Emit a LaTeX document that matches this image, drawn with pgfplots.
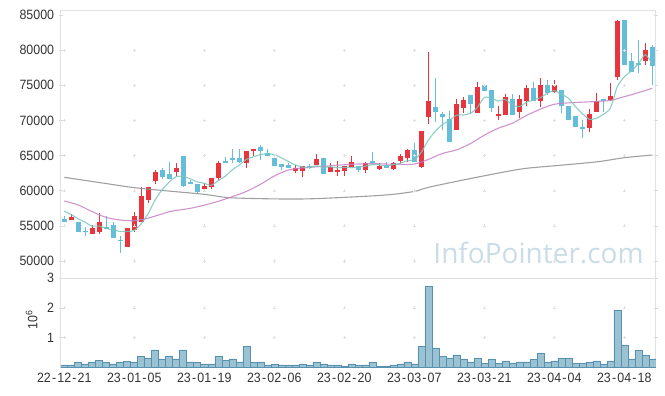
\documentclass[border=0pt]{standalone}
\usepackage{fontspec}
\setmainfont{Liberation Sans}
\newfontfamily\tickfont[FakeStretch=0.92]{Liberation Sans}
\newfontfamily\wmfont{Open Sans}
\usepackage{pgfplots}
\usepackage{pgfplotstable}
\pgfplotsset{compat=1.18}
\definecolor{candred}{RGB}{232,52,60}
\definecolor{candblue}{RGB}{100,190,218}
\definecolor{maA}{RGB}{120,198,188}
\definecolor{maB}{RGB}{200,128,196}
\definecolor{maC}{RGB}{150,150,150}
\definecolor{volfill}{RGB}{155,194,210}
\definecolor{voledge}{RGB}{88,145,175}
\definecolor{wmcolor}{RGB}{202,220,230}
\definecolor{frame}{RGB}{225,225,225}
\newcommand{\hy}{\kern1.2pt-\kern1.2pt}

\pgfplotstableread{
i o h l c
1 55900 56700 55900 56300
4 53900 55100 53900 54700
5 54200 56900 53900 55600
9 52000 54700 52000 54700
10 54400 57000 54200 56400
11 55600 60500 55600 59300
12 58700 60600 58300 60600
13 61400 63000 61000 62600
16 62600 63900 62100 63200
20 60300 61100 60100 60700
21 60500 61800 60200 61800
22 61800 64200 61500 64000
26 63900 65700 63200 65700
27 65600 66000 64900 65900
33 62800 63700 62500 63200
34 62800 63500 61900 63500
36 63700 65200 63600 64500
38 62700 63900 62700 63400
39 62600 64200 62100 62900
40 62800 63500 62100 63500
41 63400 65000 63400 64100
43 63000 64100 62500 64000
45 63100 63900 62900 63500
47 63100 64100 63000 64000
48 64300 65200 63900 64900
49 64600 66000 64100 65800
51 63400 68500 63300 68500
52 70500 79800 69500 72700
56 68700 73000 68700 72300
57 71700 73400 71000 72900
59 71100 75500 71100 74700
62 70600 72000 70000 70900
63 70800 73800 70800 73400
65 71200 73600 70300 73100
66 72800 75000 72000 74600
68 72800 76000 71900 75000
70 74000 75800 73900 75000
75 68900 71600 68300 70900
76 71200 73900 71200 72700
78 72900 75300 72700 73500
79 76200 84300 75800 84100
83 78400 81000 77900 80000
}\uptab

\pgfplotstableread{
i o h l c
0 56000 56400 55500 55500
2 55600 55600 54200 54200
3 54200 54800 53500 54100
6 54800 56400 54500 54500
7 55100 55600 53300 53300
8 52900 53500 51100 52800
14 63000 63200 61600 62000
15 62400 64100 61700 61700
17 64900 64900 60600 60700
18 61300 61500 60900 60900
19 60900 60900 59500 59800
23 64200 64800 64000 64000
24 64600 66000 63900 64400
25 64700 65900 63900 64100
28 66200 66500 64400 65600
29 65300 65900 65000 65000
30 64600 64600 63500 63500
31 63800 63800 62900 63400
32 63600 63900 63200 63300
35 63500 63800 63100 63200
37 64700 64700 62400 62400
42 63500 63500 62600 63000
44 64200 65500 63700 63900
46 63600 64100 63200 63200
50 65800 66800 64100 64100
53 71900 76000 69800 71200
54 70900 71200 68600 70500
55 70200 71300 67000 67000
58 73600 73600 71000 72300
60 75000 75000 74200 74200
61 74300 74300 71200 71700
64 73000 73800 70800 70800
67 74600 75500 72700 72700
69 75000 75800 73600 73900
71 74300 74300 71000 72000
72 72100 72100 70000 70000
73 70600 70600 69100 69100
74 69100 70000 67500 68800
77 73000 73000 71200 72800
80 84300 84300 77900 77900
81 78400 79600 76900 76900
82 78200 81400 76700 77900
84 80500 80700 75000 77700
}\dntab

\pgfplotstableread{
i v
0 57100
1 56600
2 56000
3 55500
4 54960
5 54980
6 54620
7 54440
8 54200
9 54200
10 54360
11 55320
12 56780
13 58720
14 60180
15 61240
16 62020
17 62040
18 61700
19 61260
20 61060
21 60780
22 61440
23 62060
24 62980
25 63660
26 64440
27 64820
28 65140
29 65260
30 65140
31 64680
32 64160
33 63680
34 63380
35 63320
36 63540
37 63360
38 63400
39 63280
40 63340
41 63260
42 63380
43 63500
44 63700
45 63700
46 63520
47 63720
48 63900
49 64280
50 64400
51 65460
52 67200
53 68460
54 69400
55 69980
56 70740
57 70780
58 71000
59 71840
60 73280
61 73160
62 72760
63 72980
64 72200
65 71980
66 72560
67 72920
68 73240
69 73860
70 74240
71 73720
72 73180
73 72000
74 70980
75 70160
76 70300
77 70860
78 71740
79 74800
80 76200
81 77040
82 78060
83 79360
84 78080
}\maAtab

\pgfplotstableread{
i v
0 58540
2 57970
4 57020
6 56200
8 55840
10 55740
12 56100
13 56410
14 56700
15 57020
16 57200
18 57500
20 57950
22 58500
24 59160
26 59900
28 60900
30 62100
32 62950
34 63250
36 63400
38 63550
40 63700
42 63800
44 63850
46 63800
48 63750
50 63800
52 64450
54 65300
56 65800
58 66700
60 67900
62 68900
64 69600
66 70700
68 71600
70 72300
72 72500
74 72600
76 72700
78 72850
80 73380
82 73950
84 74570
}\maBtab

\pgfplotstableread{
i v
0 61910
5 61170
10 60440
15 59950
20 59490
23 59060
26 58920
31 58830
35 58850
40 59060
46 59400
50 59900
52 60480
57 61530
63 62700
66 63190
70 63550
76 64100
80 64700
84 65080
}\maCtab

\pgfplotstableread{
i v
0 0.09
1 0.09
2 0.19
3 0.12
4 0.17
5 0.23
6 0.17
7 0.12
8 0.17
9 0.20
10 0.17
11 0.36
12 0.32
13 0.59
14 0.29
15 0.39
16 0.29
17 0.59
18 0.19
19 0.17
20 0.12
21 0.12
22 0.36
23 0.23
24 0.29
25 0.19
26 0.72
27 0.17
28 0.19
29 0.09
30 0.12
31 0.09
32 0.09
33 0.09
34 0.12
35 0.09
36 0.17
37 0.12
38 0.09
39 0.09
40 0.05
41 0.12
42 0.09
43 0.09
44 0.17
45 0.05
46 0.05
47 0.09
48 0.12
49 0.19
50 0.12
51 0.72
52 2.72
53 0.66
54 0.36
55 0.32
56 0.42
57 0.29
58 0.19
59 0.32
60 0.15
61 0.26
62 0.15
63 0.22
64 0.15
65 0.19
66 0.19
67 0.26
68 0.49
69 0.19
70 0.22
71 0.32
72 0.32
73 0.15
74 0.15
75 0.19
76 0.22
77 0.12
78 0.22
79 1.92
80 0.76
81 0.29
82 0.59
83 0.42
84 0.29
}\voltab

\begin{document}
\begin{tikzpicture}
\path[use as bounding box] (0,0) rectangle (665pt,396pt);

\begin{axis}[
  at={(60.8pt,118pt)}, anchor=south west,
  scale only axis, width=595pt, height=268pt,
  xmin=-0.5, xmax=84.5, ymin=47590, ymax=85710,
  axis line style={frame, line width=0.8pt},
  xtick=\empty,
  scaled y ticks=false,
  ytick={50000,55000,60000,65000,70000,75000,80000,85000},
  yticklabels={50000,55000,60000,65000,70000,75000,80000,85000},
  tick align=center, major tick length=4pt,
  ytick style={draw=black!15, line width=0.6pt},
  yticklabel style={font=\tickfont\fontsize{13.5}{15}\selectfont, text=black!80, inner sep=0pt, xshift=-4.5pt},
  clip=true,
]
\node[font=\wmfont\fontsize{28}{30}\selectfont, text=wmcolor, anchor=center] at (rel axis cs:0.803,0.092) {InfoPointer.com};
\pgfplotsinvokeforeach{0,10,20,30,40,50,60,70,80}{
  \addplot[only marks, mark=+, mark size=1.6pt, black!12, forget plot] coordinates {(#1,50000) (#1,55000) (#1,60000) (#1,65000) (#1,70000) (#1,75000) (#1,80000)};
}
% wicks
\addplot[draw=none, mark=none, forget plot,
  error bars/.cd, y dir=plus, y explicit, error mark=none,
  error bar style={draw=candred, line width=1pt}]
  table[x=i, y=l, y error plus expr={\thisrow{h}-\thisrow{l}}] {\uptab};
\addplot[draw=none, mark=none, forget plot,
  error bars/.cd, y dir=plus, y explicit, error mark=none,
  error bar style={draw=candblue, line width=1pt}]
  table[x=i, y=l, y error plus expr={\thisrow{h}-\thisrow{l}}] {\dntab};
% bodies
\addplot[draw=none, mark=none, forget plot,
  error bars/.cd, y dir=plus, y explicit, error mark=none,
  error bar style={draw=candred, line width=5pt}]
  table[x=i, y=o, y error plus expr={max(\thisrow{c}-\thisrow{o},150)}] {\uptab};
\addplot[draw=none, mark=none, forget plot,
  error bars/.cd, y dir=plus, y explicit, error mark=none,
  error bar style={draw=candblue, line width=5pt}]
  table[x=i, y=c, y error plus expr={max(\thisrow{o}-\thisrow{c},150)}] {\dntab};
% moving averages
\addplot[maC, line width=1.1pt, opacity=0.9, smooth, mark=none] table[x=i,y=v] {\maCtab};
\addplot[maB, line width=1.1pt, opacity=0.85, smooth, mark=none] table[x=i,y=v] {\maBtab};
\addplot[maA, line width=1.1pt, opacity=0.85, smooth, tension=0.4, mark=none] table[x=i,y=v] {\maAtab};
\end{axis}

\begin{axis}[
  at={(60.8pt,28.5pt)}, anchor=south west,
  scale only axis, width=595pt, height=89.5pt,
  xmin=-0.5, xmax=84.5, ymin=0, ymax=3,
  axis line style={frame, line width=0.8pt},
  xtick={0,10,20,30,40,50,60,70,80},
  xticklabels={22\hy12\hy21,23\hy01\hy05,23\hy01\hy19,23\hy02\hy06,23\hy02\hy20,23\hy03\hy07,23\hy03\hy21,23\hy04\hy04,23\hy04\hy18},
  scaled y ticks=false,
  ytick={1,2,3}, yticklabels={1,2,3},
  xtick style={draw=none},
  tick align=center, major tick length=4pt,
  ytick style={draw=black!15, line width=0.6pt},
  yticklabel style={font=\tickfont\fontsize{13.5}{15}\selectfont, text=black!80, inner sep=0pt, xshift=-4.5pt},
  xticklabel style={font=\tickfont\fontsize{13.5}{15}\selectfont, text=black!80, inner sep=0pt, yshift=-3.5pt},
  ylabel={10\textsuperscript{6}},
  ylabel style={font=\tickfont\fontsize{13.5}{15}\selectfont, text=black!80, at={(rel axis cs:-0.049,0.53)}, anchor=center, rotate=0},
]
\pgfplotsinvokeforeach{0,10,20,30,40,50,60,70,80}{
  \addplot[only marks, mark=+, mark size=1.6pt, black!12, forget plot] coordinates {(#1,1) (#1,2)};
}
\addplot[ybar, bar width=1, bar shift=0pt, fill=volfill, draw=voledge, line width=0.6pt] table[x=i,y=v] {\voltab};
\end{axis}
\end{tikzpicture}
\end{document}
